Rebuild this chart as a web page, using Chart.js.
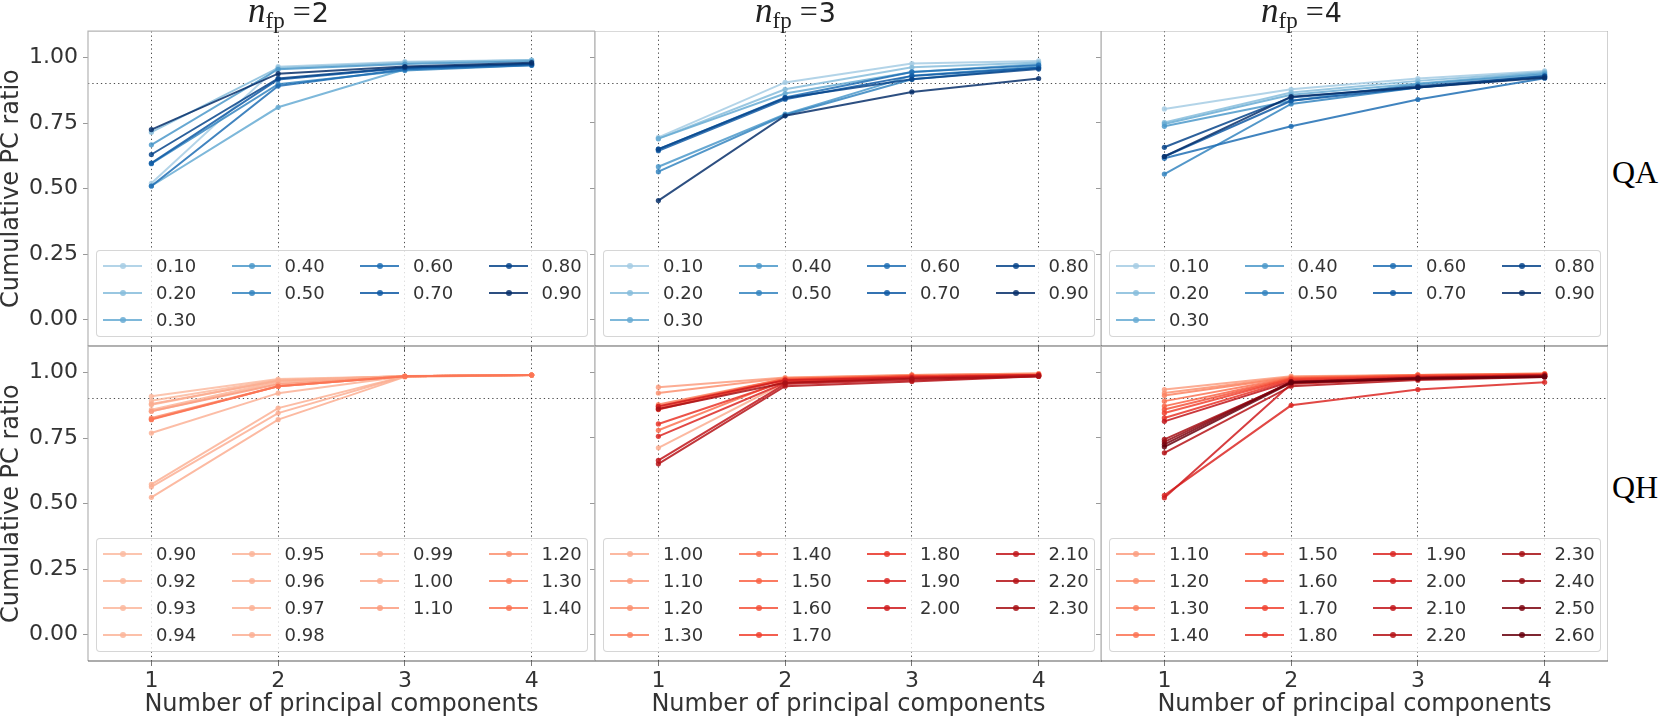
<!DOCTYPE html>
<html>
<head>
<meta charset="utf-8">
<title>Cumulative PC ratio</title>
<script src="https://cdn.jsdelivr.net/npm/chart.js@4.4.1/dist/chart.umd.min.js"></script>
<style>
  body { margin: 0; background: #fff; overflow: hidden; }
  #page { position: relative; width: 1661px; height: 719px; font-family: "DejaVu Sans", sans-serif; color: #333; }
  .holder { position: absolute; }
  .holder canvas { display: block; }
  .ctitle { position: absolute; top: -7px; line-height: 32px; font-size: 27px; color: #222; white-space: nowrap; }
  .ctitle .n { font-family: "Liberation Serif", serif; font-style: italic; font-size: 35px; line-height: 1; }
  .ctitle sub { font-family: "Liberation Serif", serif; font-size: 23px; line-height: 0; vertical-align: -6px; }
  .ctitle .eq { font-family: "Liberation Serif", serif; font-size: 32px; line-height: 1; margin: 0 1px 0 8px; }
  .rlab { position: absolute; left: 1612px; font-family: "Liberation Serif", serif; font-size: 32px; line-height: 32px; color: #000; }
  .legend { position: absolute; box-sizing: border-box; width: 492px; padding: 1px 6px 3px 6px;
            background: rgba(255,255,255,0.8); border: 1px solid rgba(204,204,204,0.8); border-radius: 4px;
            display: grid; grid-template-columns: 128.5px 128.5px 128.5px auto; grid-auto-rows: 27px;
            font-size: 18px; color: #333; }
  .item { display: flex; align-items: center; }
  .handle { position: relative; width: 39px; height: 2px; margin-right: 14px; }
  .handle i { position: absolute; left: 17px; top: -2px; width: 6px; height: 6px; border-radius: 50%; background: inherit; }
</style>
</head>
<body>
<div id="page"></div>
<script>
// x categories and axis ticks
const pcs = [1, 2, 3, 4];
const xTicks = [1, 2, 3, 4];
const yTicks = [0, 0.25, 0.5, 0.75, 1.0];
const refLines = [0.9];

const colTitles = ['2', '3', '4'];
const rowLabels = ['QA', 'QH'];

// QA (top row)
const qaLabels = ['0.10', '0.20', '0.30', '0.40', '0.50', '0.60', '0.70', '0.80', '0.90'];
const qaN2 = [
    [0.520, 0.965, 0.984, 0.990],
    [0.715, 0.960, 0.980, 0.990],
    [0.510, 0.810, 0.955, 0.975],
    [0.667, 0.955, 0.975, 0.985],
    [0.595, 0.898, 0.950, 0.970],
    [0.510, 0.891, 0.955, 0.970],
    [0.597, 0.916, 0.960, 0.975],
    [0.630, 0.920, 0.962, 0.975],
    [0.725, 0.938, 0.965, 0.980]
];
const qaN3 = [
    [0.695, 0.904, 0.976, 0.986],
    [0.690, 0.878, 0.962, 0.980],
    [0.690, 0.862, 0.944, 0.974],
    [0.583, 0.783, 0.930, 0.965],
    [0.564, 0.780, 0.916, 0.960],
    [0.650, 0.847, 0.944, 0.970],
    [0.644, 0.840, 0.929, 0.960],
    [0.650, 0.845, 0.916, 0.955],
    [0.454, 0.777, 0.868, 0.919]
];
const qaN4 = [
    [0.803, 0.878, 0.919, 0.948],
    [0.752, 0.866, 0.910, 0.944],
    [0.746, 0.857, 0.900, 0.940],
    [0.737, 0.834, 0.897, 0.935],
    [0.555, 0.822, 0.885, 0.930],
    [0.615, 0.737, 0.839, 0.920],
    [0.622, 0.834, 0.885, 0.925],
    [0.657, 0.847, 0.890, 0.928],
    [0.622, 0.850, 0.885, 0.922]
];

// QH (bottom row)
const qhN2Labels = ['0.90', '0.92', '0.93', '0.94', '0.95', '0.96', '0.97', '0.98', '0.99', '1.00', '1.10', '1.20', '1.30', '1.40'];
const qhN2 = [
    [0.909, 0.975, 0.985, 0.990],
    [0.892, 0.972, 0.985, 0.990],
    [0.877, 0.970, 0.985, 0.990],
    [0.858, 0.965, 0.985, 0.990],
    [0.852, 0.960, 0.985, 0.990],
    [0.769, 0.921, 0.985, 0.990],
    [0.573, 0.864, 0.985, 0.990],
    [0.564, 0.845, 0.985, 0.990],
    [0.524, 0.820, 0.983, 0.990],
    [0.880, 0.968, 0.986, 0.990],
    [0.852, 0.955, 0.985, 0.990],
    [0.826, 0.947, 0.985, 0.990],
    [0.822, 0.947, 0.985, 0.990],
    [0.820, 0.947, 0.985, 0.990]
];
const qhN3Labels = ['1.00', '1.10', '1.20', '1.30', '1.40', '1.50', '1.60', '1.70', '1.80', '1.90', '2.00', '2.10', '2.20', '2.30'];
const qhN3 = [
    [0.712, 0.960, 0.980, 0.990],
    [0.943, 0.980, 0.990, 0.995],
    [0.921, 0.978, 0.990, 0.995],
    [0.877, 0.975, 0.988, 0.993],
    [0.779, 0.970, 0.985, 0.990],
    [0.871, 0.975, 0.985, 0.990],
    [0.864, 0.972, 0.985, 0.990],
    [0.858, 0.970, 0.985, 0.990],
    [0.803, 0.965, 0.980, 0.990],
    [0.756, 0.960, 0.978, 0.988],
    [0.870, 0.970, 0.980, 0.990],
    [0.664, 0.955, 0.970, 0.985],
    [0.651, 0.947, 0.965, 0.985],
    [0.860, 0.960, 0.975, 0.985]
];
const qhN4Labels = ['1.10', '1.20', '1.30', '1.40', '1.50', '1.60', '1.70', '1.80', '1.90', '2.00', '2.10', '2.20', '2.30', '2.40', '2.50', '2.60'];
const qhN4 = [
    [0.934, 0.985, 0.990, 0.995],
    [0.921, 0.982, 0.990, 0.995],
    [0.911, 0.980, 0.990, 0.993],
    [0.890, 0.978, 0.988, 0.993],
    [0.871, 0.977, 0.988, 0.992],
    [0.858, 0.975, 0.987, 0.992],
    [0.845, 0.973, 0.985, 0.990],
    [0.826, 0.970, 0.983, 0.990],
    [0.531, 0.874, 0.934, 0.962],
    [0.522, 0.955, 0.975, 0.985],
    [0.813, 0.965, 0.980, 0.990],
    [0.693, 0.947, 0.970, 0.982],
    [0.744, 0.960, 0.975, 0.985],
    [0.735, 0.963, 0.978, 0.985],
    [0.725, 0.963, 0.978, 0.985],
    [0.716, 0.960, 0.975, 0.982]
];

// panel boxes on the page
const colLeft = [88, 595, 1101];
const rowTop = [31, 346];
const panelW = 507, panelH = 315;

const bluesStops = ['#f7fbff', '#deebf7', '#c6dbef', '#9ecae1', '#6baed6', '#4292c6', '#2171b5', '#08519c', '#08306b'];
const redsStops = ['#fff5f0', '#fee0d2', '#fcbba1', '#fc9272', '#fb6a4a', '#ef3b2c', '#cb181d', '#a50f15', '#67000d'];

function cmap(stops, t, alpha) {
    t = Math.min(1, Math.max(0, t));
    const pos = t * (stops.length - 1);
    const i = Math.min(stops.length - 2, Math.floor(pos));
    const f = pos - i;
    const a = parseInt(stops[i].slice(1), 16), b = parseInt(stops[i + 1].slice(1), 16);
    const mix = function(sh) {
        const ca = (a >> sh) & 255, cb = (b >> sh) & 255;
        return Math.round(ca + (cb - ca) * f);
    };
    return 'rgba(' + mix(16) + ',' + mix(8) + ',' + mix(0) + ',' + alpha + ')';
}
function qaColor(v) { return cmap(bluesStops, 0.35 + 0.65 * (v - 0.1) / 0.8, 0.85); }
function qhColor(v) { return cmap(redsStops, 0.25 + 0.75 * (v - 0.9) / 1.7, 0.85); }

Chart.defaults.font.family = '"DejaVu Sans", sans-serif';
Chart.defaults.color = '#333';

// panel frame: light spines, darker bottom one
const spines = {
    id: 'spines',
    beforeDatasetsDraw(chart) {
        const ctx = chart.ctx, a = chart.chartArea;
        ctx.save();
        ctx.lineWidth = 1.2;
        ctx.strokeStyle = '#b4b4b4';
        ctx.beginPath();
        ctx.moveTo(a.left, a.bottom);
        ctx.lineTo(a.left, a.top);
        ctx.lineTo(a.right, a.top);
        ctx.lineTo(a.right, a.bottom);
        ctx.stroke();
        ctx.strokeStyle = '#5a5a5a';
        ctx.beginPath();
        ctx.moveTo(a.left, a.bottom);
        ctx.lineTo(a.right, a.bottom);
        ctx.stroke();
        ctx.restore();
    }
};

function buildChart(canvas, w, h, row, col, labels, values, colorOf) {
    canvas.width = w;
    canvas.height = h;
    canvas.style.width = w + 'px';
    canvas.style.height = h + 'px';
    const datasets = labels.map(function(lab, i) {
        const c = colorOf(parseFloat(lab));
        return {
            label: lab,
            data: values[i].map(function(v, k) { return {x: pcs[k], y: v}; }),
            borderColor: c,
            backgroundColor: c,
            pointBackgroundColor: c,
            pointBorderColor: c,
            borderWidth: 2,
            pointRadius: 2.6,
            pointBorderWidth: 0,
            tension: 0,
            order: labels.length - i
        };
    });
    return new Chart(canvas, {
        type: 'line',
        data: {datasets: datasets},
        options: {
            responsive: false,
            animation: false,
            layout: {padding: 0, autoPadding: false},
            plugins: {legend: {display: false}, tooltip: {enabled: false}},
            scales: {
                x: {
                    type: 'linear', min: 0.5, max: 4.5,
                    afterBuildTicks: function(s) { s.ticks = xTicks.map(function(v) { return {value: v}; }); },
                    afterFit: function(s) { s.height = 58; },
                    ticks: {display: row === 1, font: {size: 22}, color: '#333', padding: 2,
                        callback: function(v) { return String(v); }},
                    grid: {color: 'rgba(0,0,0,0.7)', lineWidth: 1, tickLength: 5, tickColor: '#777', tickBorderDash: []},
                    border: {display: false, dash: [1.3, 3]},
                    title: {display: row === 1, text: 'Number of principal components', color: '#333',
                        font: {size: 24, lineHeight: 1}, padding: {top: 0, bottom: 2}}
                },
                y: {
                    min: -0.1, max: 1.1,
                    afterBuildTicks: function(s) { s.ticks = yTicks.map(function(v) { return {value: v}; }); },
                    afterFit: function(s) { s.width = 88; },
                    ticks: {display: col === 0, font: {size: 22}, color: '#333', padding: 5,
                        callback: function(v) { return v.toFixed(2); }},
                    grid: {drawOnChartArea: false, tickLength: 5, tickColor: '#999'},
                    border: {display: false},
                    title: {display: col === 0, text: 'Cumulative PC ratio', color: '#333',
                        font: {size: 24, lineHeight: 1}, padding: {top: 0, bottom: 0}}
                },
                ref: {
                    position: 'left', min: -0.1, max: 1.1,
                    afterBuildTicks: function(s) { s.ticks = refLines.map(function(v) { return {value: v}; }); },
                    afterFit: function(s) { s.width = 0; },
                    ticks: {display: false},
                    grid: {color: 'rgba(0,0,0,0.7)', lineWidth: 1, drawTicks: false},
                    border: {display: false, dash: [1.3, 3]}
                }
            }
        },
        plugins: [spines]
    });
}

function addLegend(chart, row, col) {
    const items = chart.options.plugins.legend.labels.generateLabels(chart)
        .sort(function(p, q) { return p.datasetIndex - q.datasetIndex; });
    const n = items.length, ncol = 4;
    const nrows = Math.ceil(n / ncol);
    const big = n % ncol === 0 ? ncol : n % ncol;
    const box = document.createElement('div');
    box.className = 'legend';
    box.style.left = (colLeft[col] + 8) + 'px';
    box.style.bottom = (719 - (rowTop[row] + panelH - 9)) + 'px';
    let k = 0;
    for (let c = 0; c < ncol; c++) {
        const rows = c < big ? nrows : nrows - 1;
        for (let r = 0; r < rows; r++) {
            const it = items[k++];
            const el = document.createElement('div');
            el.className = 'item';
            el.style.gridColumn = String(c + 1);
            el.style.gridRow = String(r + 1);
            const h = document.createElement('span');
            h.className = 'handle';
            h.style.background = it.strokeStyle;
            h.appendChild(document.createElement('i'));
            const t = document.createElement('span');
            t.textContent = it.text;
            el.appendChild(h);
            el.appendChild(t);
            box.appendChild(el);
        }
    }
    document.getElementById('page').appendChild(box);
}

function makePanel(row, col, labels, values, colorOf) {
    const page = document.getElementById('page');
    const holder = document.createElement('div');
    holder.className = 'holder';
    const canvas = document.createElement('canvas');
    holder.appendChild(canvas);
    page.appendChild(holder);

    let w = panelW + 88, h = panelH + 58;
    let chart = buildChart(canvas, w, h, row, col, labels, values, colorOf);
    // make the plot area exactly the panel size, then pin it in place
    let a = chart.chartArea;
    if (Math.round(a.right - a.left) !== panelW || Math.round(a.bottom - a.top) !== panelH) {
        w = w + panelW - (a.right - a.left);
        h = h + panelH - (a.bottom - a.top);
        chart.destroy();
        chart = buildChart(canvas, Math.round(w), Math.round(h), row, col, labels, values, colorOf);
        a = chart.chartArea;
    }
    holder.style.left = (colLeft[col] - a.left) + 'px';
    holder.style.top = (rowTop[row] - a.top) + 'px';
    addLegend(chart, row, col);
}

makePanel(0, 0, qaLabels, qaN2, qaColor);
makePanel(0, 1, qaLabels, qaN3, qaColor);
makePanel(0, 2, qaLabels, qaN4, qaColor);
makePanel(1, 0, qhN2Labels, qhN2, qhColor);
makePanel(1, 1, qhN3Labels, qhN3, qhColor);
makePanel(1, 2, qhN4Labels, qhN4, qhColor);

// column titles and row labels
const page = document.getElementById('page');
colTitles.forEach(function(t, c) {
    const d = document.createElement('div');
    d.className = 'ctitle';
    d.style.left = (colLeft[c] + 160) + 'px';
    d.innerHTML = '<span class="n">n</span><sub>fp</sub><span class="eq">=</span>' + t;
    page.appendChild(d);
});
rowLabels.forEach(function(t, r) {
    const d = document.createElement('div');
    d.className = 'rlab';
    d.style.top = (rowTop[r] + 125) + 'px';
    d.textContent = t;
    page.appendChild(d);
});
</script>
</body>
</html>
